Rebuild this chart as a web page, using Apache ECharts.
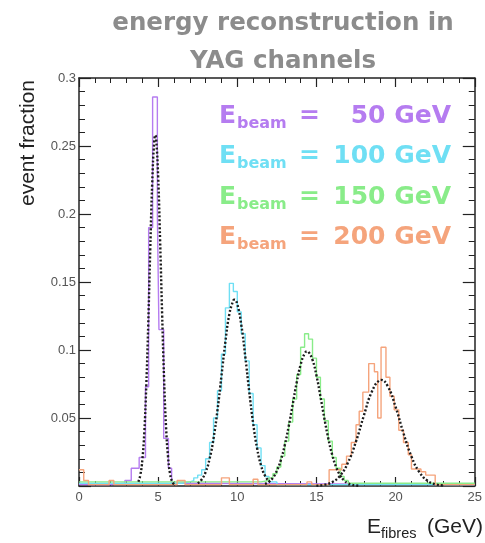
<!DOCTYPE html>
<html><head><meta charset="utf-8">
<script src="https://cdn.jsdelivr.net/npm/echarts@6/dist/echarts.min.js"></script>
<style>html,body{margin:0;padding:0;background:#fff}#c{width:485px;height:543px}</style>
</head><body><div id="c"></div>
<script>
// ---- data ----
const colors = ['#b57cf0', '#6fdff4', '#89ec89', '#f5a47c'];
const legendValues = ['50 GeV', '100 GeV', '150 GeV', '200 GeV'];
const xRange = [0, 25];
const yRange = [0, 0.3];

// histograms: [bin left edge (GeV), event fraction]
const hist50 = [[0,0.001],[2.0,0.002],[2.9,0.004],[3.3,0.013],[3.8,0.021],[4.2,0.073],[4.4,0.19],[4.65,0.286],[4.95,0.2],[5.05,0.115],[5.35,0.035],[5.65,0.013],[5.85,0.002],[7,0.001],[25,0.001]];
const hist100 = [[0,0.002],[6.5,0.003],[7.0,0.004],[7.25,0.006],[7.5,0.008],[7.75,0.012],[8.0,0.02],[8.25,0.032],[8.5,0.05],[8.75,0.07],[9.0,0.097],[9.25,0.131],[9.5,0.149],[9.75,0.143],[10.0,0.128],[10.25,0.112],[10.5,0.092],[10.75,0.068],[11.0,0.045],[11.25,0.028],[11.5,0.015],[11.75,0.007],[12.0,0.003],[12.5,0.001],[25,0.001]];
const hist150 = [[0,0.003],[11.5,0.004],[12.0,0.006],[12.25,0.009],[12.5,0.014],[12.75,0.022],[13.0,0.033],[13.25,0.047],[13.5,0.064],[13.75,0.082],[14.0,0.102],[14.25,0.112],[14.5,0.108],[14.75,0.094],[15.0,0.08],[15.25,0.064],[15.5,0.048],[15.75,0.033],[16.0,0.021],[16.25,0.013],[16.5,0.007],[16.75,0.004],[17.0,0.002],[25,0.002]];
const hist200 = [[0,0.012],[0.3,0.004],[0.6,0.001],[1.9,0.004],[2.2,0.001],[6.2,0.004],[6.7,0.001],[9.0,0.006],[9.5,0.001],[11.0,0.005],[11.3,0.001],[14.4,0.003],[14.7,0.001],[15.8,0.012],[16.6,0.016],[16.9,0.022],[17.2,0.032],[17.5,0.045],[17.7,0.055],[17.93,0.069],[18.3,0.09],[18.66,0.084],[18.87,0.05],[19.08,0.102],[19.39,0.08],[19.64,0.066],[19.91,0.056],[20.2,0.041],[20.5,0.032],[20.8,0.023],[21.0,0.0125],[21.6,0.0105],[21.9,0.008],[22.5,0.001],[25,0.001]];

// fitted curves
const fit50 = [[3.75,0.0031],[3.875,0.0081],[4.0,0.0192],[4.125,0.0394],[4.25,0.0739],[4.375,0.1195],[4.5,0.1737],[4.625,0.2229],[4.75,0.2531],[4.82,0.258],[4.875,0.2551],[5.0,0.2277],[5.125,0.1799],[5.25,0.1269],[5.375,0.0785],[5.5,0.0431],[5.625,0.0214],[5.75,0.0092],[5.875,0.0035],[6.0,0.0012]];
const fit100 = [[7.5,0.0020],[7.75,0.0048],[8.0,0.0103],[8.25,0.0200],[8.5,0.0351],[8.75,0.0560],[9.0,0.0810],[9.25,0.1063],[9.5,0.1265],[9.75,0.1365],[9.82,0.137],[10.0,0.1336],[10.25,0.1186],[10.5,0.0955],[10.75,0.0697],[11.0,0.0462],[11.25,0.0277],[11.5,0.0151],[11.75,0.0075],[12.0,0.0033]];
const fit150 = [[11.75,0.0015],[12.0,0.0031],[12.25,0.0061],[12.5,0.0112],[12.75,0.0191],[13.0,0.0301],[13.25,0.0441],[13.5,0.0600],[13.75,0.0760],[14.0,0.0892],[14.25,0.0973],[14.42,0.099],[14.5,0.0986],[14.75,0.0928],[15.0,0.0812],[15.25,0.0659],[15.5,0.0497],[15.75,0.0348],[16.0,0.0227],[16.25,0.0137],[16.5,0.0077],[16.75,0.0040],[17.0,0.0019],[17.25,0.0009],[17.5,0.0004],[17.75,0.0001]];
const fit200 = [[15.0,0.0002],[15.5,0.0009],[16.0,0.0029],[16.5,0.0077],[17.0,0.0174],[17.5,0.0328],[18.0,0.0520],[18.5,0.0694],[19.0,0.0778],[19.08,0.078],[19.5,0.0734],[20.0,0.0581],[20.5,0.0387],[21.0,0.0217],[21.5,0.0102],[22.0,0.0040],[22.5,0.0013],[23.0,0.0004]];

const hists = [hist50, hist100, hist150, hist200];
const fits = [fit50, fit100, fit150, fit200];

// ---- chart ----
const chart = echarts.init(document.getElementById('c'), null, {renderer: 'canvas'});
const axisCol = '#222';
const headFont = 'DejaVu Sans';
function xAx(pos, showLabel) {
  return {
    type: 'value', min: xRange[0], max: xRange[1], interval: 5, position: pos,
    axisLine: {show: true, onZero: false, lineStyle: {color: axisCol, width: 1.5}},
    axisTick: {show: true, inside: true, length: 9, lineStyle: {color: axisCol, width: 1.2}},
    minorTick: {show: true, splitNumber: 5, length: 5, lineStyle: {color: axisCol, width: 1}},
    axisLabel: {show: showLabel, color: '#555', fontSize: 13, margin: 5, fontFamily: 'Liberation Sans'},
    splitLine: {show: false}
  };
}
function yAx(pos, showLabel) {
  return {
    type: 'value', min: yRange[0], max: yRange[1], interval: 0.05, position: pos,
    axisLine: {show: true, onZero: false, lineStyle: {color: axisCol, width: 1.5}},
    axisTick: {show: true, inside: true, length: 12, lineStyle: {color: axisCol, width: 1.2}},
    minorTick: {show: true, splitNumber: 5, length: 6, lineStyle: {color: axisCol, width: 1}},
    axisLabel: {show: showLabel, showMinLabel: false, color: '#555', fontSize: 13, margin: 3, fontFamily: 'Liberation Sans',
      formatter: v => String(+v.toFixed(2))},
    splitLine: {show: false}
  };
}

const series = [];
hists.forEach((h, i) => series.push({
  type: 'line', step: 'end', data: h, symbol: 'none', z: 2,
  lineStyle: {color: colors[i], width: 1.4}, silent: true
}));
fits.forEach((f) => series.push({
  type: 'line', smooth: true, data: f, symbol: 'none', z: 3,
  lineStyle: {color: '#1c1c1c', width: 2.4, type: [2, 2]}, silent: true
}));

const graphics = [];
const rowY = [116, 156, 197, 237];
legendValues.forEach((v, i) => {
  const c = colors[i], y = rowY[i];
  graphics.push({type: 'text', style: {text: 'E', x: 219, y: y, fill: c, fontSize: 25, fontFamily: headFont, fontWeight: 'bold', align: 'left', verticalAlign: 'middle'}});
  graphics.push({type: 'text', style: {text: 'beam', x: 237, y: y + 8, fill: c, fontSize: 16, fontFamily: headFont, fontWeight: 'bold', align: 'left', verticalAlign: 'middle'}});
  graphics.push({type: 'text', style: {text: '=', x: 299, y: y, fill: c, fontSize: 25, fontFamily: headFont, fontWeight: 'bold', align: 'left', verticalAlign: 'middle'}});
  graphics.push({type: 'text', style: {text: v, x: 451, y: y, fill: c, fontSize: 25, fontFamily: headFont, fontWeight: 'bold', align: 'right', verticalAlign: 'middle'}});
});
// axis titles
graphics.push({type: 'text', rotation: Math.PI / 2, x: 28, y: 143, style: {text: 'event fraction', x: 0, y: 0, fill: '#222', fontSize: 21, fontFamily: 'Liberation Sans', align: 'center', verticalAlign: 'middle'}});
graphics.push({type: 'text', style: {text: 'E', x: 367, y: 527, fill: '#222', fontSize: 21, fontFamily: 'Liberation Sans', align: 'left', verticalAlign: 'middle'}});
graphics.push({type: 'text', style: {text: 'fibres', x: 381, y: 534, fill: '#222', fontSize: 14.5, fontFamily: 'Liberation Sans', align: 'left', verticalAlign: 'middle'}});
graphics.push({type: 'text', style: {text: '(GeV)', x: 483, y: 527, fill: '#222', fontSize: 21, fontFamily: 'Liberation Sans', align: 'right', verticalAlign: 'middle'}});

chart.setOption({
  animation: false,
  backgroundColor: '#fff',
  title: {
    text: 'energy reconstruction in\nYAG channels',
    left: 278, top: 0, textAlign: 'center',
    textStyle: {color: '#8c8c8c', fontSize: 24.5, fontFamily: headFont, fontWeight: 'bold', lineHeight: 38}
  },
  grid: {left: 79, right: 3, top: 78, bottom: 57, containLabel: false},
  xAxis: [xAx('bottom', true), xAx('top', false)],
  yAxis: [yAx('left', true), yAx('right', false)],
  series: series,
  graphic: graphics
});
</script></body></html>
